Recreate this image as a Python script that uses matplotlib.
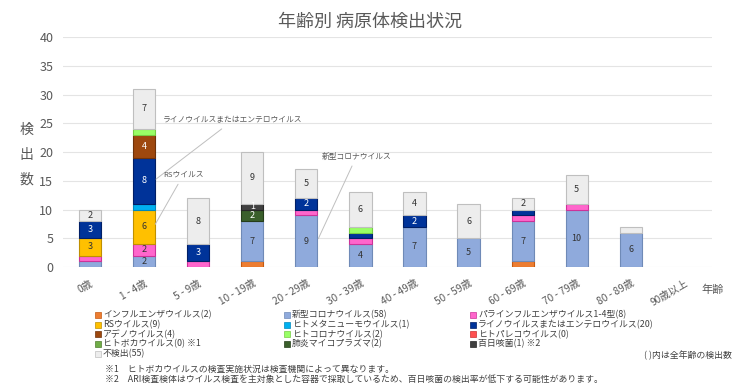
import numpy as np
import matplotlib
matplotlib.use("Agg")
import matplotlib.pyplot as plt
from matplotlib.patches import Rectangle

plt.rcParams['font.family'] = ['Noto Sans CJK JP', 'DejaVu Sans']

# age groups
ages = ['0歳', '1 - 4歳', '5 - 9歳', '10 - 19歳', '20 - 29歳', '30 - 39歳',
        '40 - 49歳', '50 - 59歳', '60 - 69歳', '70 - 79歳', '80 - 89歳', '90歳以上']

# series, in stacking order (bottom -> top)
names = ['インフルエンザウイルス', '新型コロナウイルス', 'パラインフルエンザウイルス1-4型',
         'RSウイルス', 'ヒトメタニューモウイルス', 'ライノウイルスまたはエンテロウイルス',
         'アデノウイルス', 'ヒトコロナウイルス', 'ヒトパレコウイルス',
         'ヒトボカウイルス', '肺炎マイコプラズマ', '百日咳菌', '不検出']
notes = ['', '', '', '', '', '', '', '', '', ' ※1', '', ' ※2', '']
colors = ['#ED7D31', '#8FAADC', '#FF66CC', '#FFC000', '#00B0F0', '#003399',
          '#9E480E', '#99FF66', '#FF5050', '#70AD47', '#3A5F2B', '#404040', '#EDEDED']
edges = ['#C55A11', '#6F8AB7', '#CC3399', '#BF9000', '#0088BB', '#001F66',
         '#6E320A', '#77CC44', '#CC3030', '#507D30', '#253D1A', '#262626', '#BFBFBF']

influenza  = [0, 0, 0, 1, 0, 0, 0, 0, 1, 0, 0, 0]
covid      = [1, 2, 0, 7, 9, 4, 7, 5, 7, 10, 6, 0]
para       = [1, 2, 1, 0, 1, 1, 0, 0, 1, 1, 0, 0]
rsv        = [3, 6, 0, 0, 0, 0, 0, 0, 0, 0, 0, 0]
hmpv       = [0, 1, 0, 0, 0, 0, 0, 0, 0, 0, 0, 0]
rhino      = [3, 8, 3, 0, 2, 1, 2, 0, 1, 0, 0, 0]
adeno      = [0, 4, 0, 0, 0, 0, 0, 0, 0, 0, 0, 0]
hcov       = [0, 1, 0, 0, 0, 1, 0, 0, 0, 0, 0, 0]
parecho    = [0, 0, 0, 0, 0, 0, 0, 0, 0, 0, 0, 0]
boca       = [0, 0, 0, 0, 0, 0, 0, 0, 0, 0, 0, 0]
mycoplasma = [0, 0, 0, 2, 0, 0, 0, 0, 0, 0, 0, 0]
pertussis  = [0, 0, 0, 1, 0, 0, 0, 0, 0, 0, 0, 0]
negative   = [2, 7, 8, 9, 5, 6, 4, 6, 2, 5, 1, 0]

series = [influenza, covid, para, rsv, hmpv, rhino, adeno, hcov, parecho,
          boca, mycoplasma, pertussis, negative]
white_text = {5, 6, 10, 11}

fig = plt.figure(figsize=(7.4, 3.89), dpi=100)
ax = fig.add_axes([0.0851, 0.3136, 0.877, 0.591])

x = np.arange(len(ages))
bottom = np.zeros(len(ages))
for i, vals in enumerate(series):
    vals = np.array(vals, dtype=float)
    nz = vals > 0
    if nz.any():
        ax.bar(x[nz], vals[nz], 0.41, bottom=bottom[nz], color=colors[i],
               edgecolor=edges[i], linewidth=0.8, zorder=3)
    for j, v in enumerate(vals):
        if v >= 2 or (v >= 1 and i == 11):
            ax.text(x[j], bottom[j] + v / 2, '%d' % v, ha='center', va='center',
                    fontsize=6.5, color='white' if i in white_text else '#333333',
                    zorder=4)
    bottom += vals

ax.set_xlim(-0.5, len(ages) - 0.5)
ax.set_ylim(0, 40)
ax.set_yticks(np.arange(0, 41, 5))
ax.grid(axis='y', color='#E4E4E4', linewidth=0.8, zorder=0)
for s in ax.spines.values():
    s.set_visible(False)
ax.tick_params(length=0)
ax.tick_params(axis='y', labelsize=9, labelcolor='#595959', pad=7)
ax.set_xticks(x)
ax.set_xticklabels(ages, rotation=30, ha='right', rotation_mode='anchor',
                   fontsize=7.3, color='#595959')
ax.tick_params(axis='x', pad=8)

# callouts
ann = dict(fontsize=5.6, color='#595959')
ax.annotate('ライノウイルスまたはエンテロウイルス', xy=(1.18, 15), xytext=(1.35, 25.5),
            arrowprops=dict(arrowstyle='-', color='#BFBFBF', lw=0.7),
            ha='left', va='center', **ann)
ax.annotate('RSウイルス', xy=(1.18, 7), xytext=(1.35, 16),
            arrowprops=dict(arrowstyle='-', color='#BFBFBF', lw=0.7),
            ha='left', va='center', **ann)
ax.annotate('新型コロナウイルス', xy=(4.2, 4.5), xytext=(4.28, 19.2),
            arrowprops=dict(arrowstyle='-', color='#BFBFBF', lw=0.7),
            ha='left', va='center', **ann)

fig.text(0.5, 0.943, '年齢別 病原体検出状況', ha='center', va='center',
         fontsize=13, color='#595959')
for k, ch in enumerate('検出数'):
    fig.text(26 / 740, 1 - (130 + 25 * k) / 389, ch, ha='center', va='center',
             fontsize=10, color='#595959')
fig.text(713 / 740, 1 - 290 / 389, '年齢', ha='center', va='center',
         fontsize=8, color='#595959')

# legend, row-major in 3 columns
col_x = [98, 287, 473]
for i, name in enumerate(names):
    r, c = divmod(i, 3)
    px = col_x[c]
    py = 315 + 9.7 * r
    fig.patches.append(Rectangle(((px - 3) / 740, 1 - (py + 3) / 389), 6 / 740, 6 / 389,
                                 transform=fig.transFigure, facecolor=colors[i],
                                 edgecolor=edges[i], linewidth=0.5))
    fig.text((px + 5) / 740, 1 - py / 389,
             '%s(%d)%s' % (name, sum(series[i]), notes[i]),
             ha='left', va='center', fontsize=6.4, color='#404040')

fig.text(732 / 740, 1 - 355 / 389, '( )内は全年齢の検出数', ha='right', va='center',
         fontsize=6.4, color='#404040')
fig.text(105 / 740, 1 - 369 / 389, '※1　ヒトボカウイルスの検査実施状況は検査機関によって異なります。',
         ha='left', va='center', fontsize=6.4, color='#404040')
fig.text(105 / 740, 1 - 379 / 389,
         '※2　ARI検査検体はウイルス検査を主対象とした容器で採取しているため、百日咳菌の検出率が低下する可能性があります。',
         ha='left', va='center', fontsize=6.4, color='#404040')

fig.savefig('out.png', dpi=100, facecolor='white')
